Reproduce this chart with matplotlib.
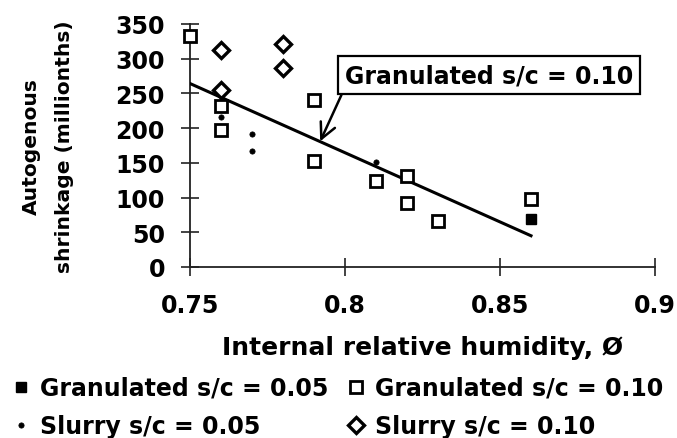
import matplotlib
matplotlib.use("Agg")
import matplotlib.pyplot as plt
from matplotlib.lines import Line2D
import numpy as np

# ---- data ----
gran05_x = [0.86]
gran05_y = [69]
gran10_x = [0.75, 0.76, 0.76, 0.79, 0.79, 0.81, 0.82, 0.82, 0.83, 0.86]
gran10_y = [332, 232, 198, 241, 152, 124, 131, 92, 66, 98]
slurry05_x = [0.76, 0.77, 0.77, 0.81]
slurry05_y = [216, 192, 167, 151]
slurry10_x = [0.76, 0.76, 0.78, 0.78]
slurry10_y = [313, 255, 321, 286]

x_ticks = [0.75, 0.8, 0.85, 0.9]
x_ticklabels = ["0.75", "0.8", "0.85", "0.9"]
y_ticks = [0, 50, 100, 150, 200, 250, 300, 350]

labels = ["Granulated s/c = 0.05", "Granulated s/c = 0.10",
          "Slurry s/c = 0.05", "Slurry s/c = 0.10"]

plt.rcParams['font.family'] = ['DejaVu Sans']
plt.rcParams['font.weight'] = 'bold'

W, H = 677, 439
fig = plt.figure(figsize=(W / 100, H / 100), dpi=100)
ax = fig.add_axes([190 / W, 1 - 268 / H, 465 / W, 243 / H])

ms_sq = dict(marker='s', ms=9, mfc='white', mec='black', mew=2.0, ls='none', clip_on=False)
ms_sqf = dict(marker='s', ms=7, mfc='black', mec='black', mew=1.0, ls='none', clip_on=False)
ms_dot = dict(marker='o', ms=3.8, mfc='black', mec='black', mew=0.5, ls='none', clip_on=False)
ms_dia = dict(marker='D', ms=8, mfc='white', mec='black', mew=2.4, ls='none', clip_on=False)

ax.plot(gran05_x, gran05_y, zorder=4, **ms_sqf)
ax.plot(gran10_x, gran10_y, zorder=4, **ms_sq)
ax.plot(slurry05_x, slurry05_y, zorder=4, **ms_dot)
ax.plot(slurry10_x, slurry10_y, zorder=4, **ms_dia)

# linear trend of granulated s/c = 0.10
coef = np.polyfit(gran10_x, gran10_y, 1)
xs = np.array([min(gran10_x), max(gran10_x)])
ax.plot(xs, np.polyval(coef, xs), color='black', lw=2.2, zorder=3)

ax.annotate("Granulated s/c = 0.10", xy=(0.792, 181), xytext=(0.80, 259),
            textcoords='data', ha='left', va='bottom', fontsize=17, fontweight='bold',
            bbox=dict(boxstyle='square,pad=0.3', fc='white', ec='black', lw=1.6),
            arrowprops=dict(arrowstyle='->', lw=1.8, color='black', relpos=(0, 0),
                            shrinkA=0, shrinkB=0, mutation_scale=28),
            zorder=5)

ax.set_xlim(0.75, 0.9)
ax.set_ylim(0, 350)
ax.set_xticks(x_ticks)
ax.set_xticklabels(x_ticklabels)
ax.set_yticks(y_ticks)
for s in ['top', 'right']:
    ax.spines[s].set_visible(False)
for s in ['left', 'bottom']:
    ax.spines[s].set_linewidth(1.3)
    ax.spines[s].set_color('#222222')
ax.tick_params(axis='both', direction='inout', length=13, width=1.2,
               labelsize=17, color='#222222')
ax.tick_params(axis='y', pad=11.5)
ax.tick_params(axis='x', pad=12)

ax.set_xlabel("Internal relative humidity, Ø", fontsize=18, fontweight='bold')
ax.xaxis.set_label_coords(0.5, -0.329)
ax.xaxis.label.set_va('center')

fig.text(48 / W, 1 - 146.5 / H, "Autogenous\nshrinkage (millionths)", rotation=90,
         ha='center', va='center', multialignment='center', fontsize=14.6,
         fontweight='bold', linespacing=1.95)

handles = [Line2D([], [], **ms_sqf), Line2D([], [], **ms_dot),
           Line2D([], [], **ms_sq), Line2D([], [], **ms_dia)]
leg_labels = [labels[0], labels[2], labels[1], labels[3]]
fig.legend(handles, leg_labels, loc='upper left', bbox_to_anchor=(12 / W, 1 - 377 / H),
           ncol=2, frameon=False, borderpad=0, borderaxespad=0,
           handlelength=0.76, handletextpad=0.42, columnspacing=0.8,
           labelspacing=0.6, prop={'weight': 'bold', 'size': 17})

fig.savefig("out.png", dpi=100)
